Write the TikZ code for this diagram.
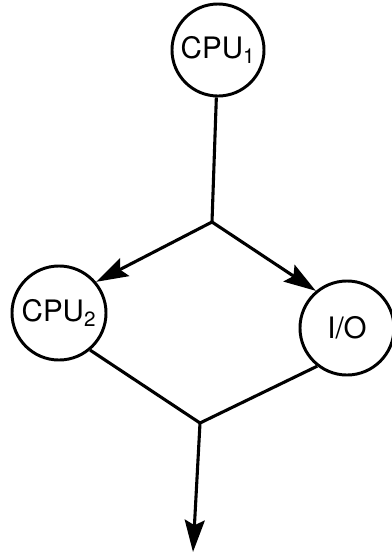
\documentclass[tikz,border=0pt]{standalone}
\usepackage{fontspec}
\setmainfont{TeX Gyre Heros}
\usetikzlibrary{arrows.meta}

\begin{document}
\begin{tikzpicture}[
    x=0.025cm, y=-0.025cm,
    font=\fontsize{21}{24}\selectfont,
    unit/.style={circle, draw=black, line width=2.1pt, minimum size=2.35cm, inner sep=0pt, align=center},
    flow/.style={line width=2.2pt},
    arrow/.style={flow, -{Stealth[length=8mm, width=5mm, inset=1.3mm]}},
]
\useasboundingbox (0,0) rectangle (392,554);

% CPU 1
\node[unit, minimum size=2.3cm] (cpu1) at (218,50) {CPU\textsubscript{1}};

% Fork
\coordinate (fork) at (212,222);
\draw[flow] (cpu1) -- (fork);

% CPU 2 and I/O
\node[unit] (cpu2) at (59,313) {CPU\textsubscript{2}};
\node[unit] (io) at (347,328) {I/O};
\draw[arrow] (fork) -- (cpu2.40);
\draw[arrow] (fork) -- (io.130);

% Join & output
\coordinate (join) at (200,423);
\coordinate (out) at (193,552);
\draw[flow] (cpu2.-50) -- (join);
\draw[flow] (io.232) -- (join);
\draw[arrow] (join) -- (out);
\end{tikzpicture}
\end{document}
